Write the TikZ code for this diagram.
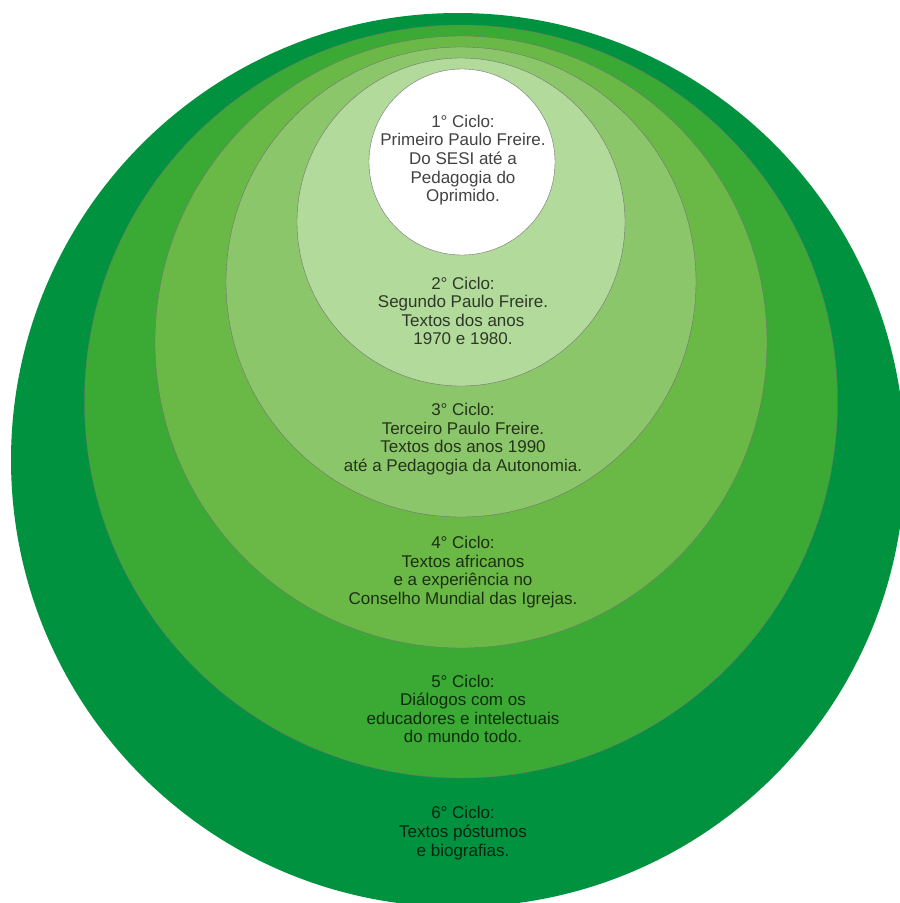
\documentclass[tikz,border=0pt]{standalone}
\usepackage{fontspec}
\setmainfont{Liberation Sans}
\definecolor{g6}{RGB}{0,146,63}
\definecolor{g5}{RGB}{58,170,53}
\definecolor{g4}{RGB}{106,184,70}
\definecolor{g3}{RGB}{140,198,106}
\definecolor{g2}{RGB}{178,218,155}
\tikzset{
  ring/.style={circle, inner sep=0pt, draw=black!55, line width=0.4pt},
  lbl/.style={align=center, text=black, text opacity=0.74, inner sep=0pt,
    font=\fontsize{17pt}{18.6pt}\selectfont}
}
\begin{document}
\begin{tikzpicture}[x=1pt,y=-1pt]
\useasboundingbox (0,0) rectangle (900,903);
\clip (0,0) rectangle (900,903);
\node[ring, fill=g6, draw=none, minimum size=894pt] (c6) at (458,460) {};
\node[ring, fill=g5, minimum size=753pt] (c5) at (461,401.5) {};
\node[ring, fill=g4, minimum size=612pt] (c4) at (461,342) {};
\node[ring, fill=g3, minimum size=470pt] (c3) at (461,282) {};
\node[ring, fill=g2, minimum size=328pt] (c2) at (461,222) {};
\node[ring, fill=white, minimum size=186pt] (c1) at (462,162) {};
\node[lbl] (t1) at (463,160) {1° Ciclo:\\Primeiro Paulo Freire.\\Do SESI até a\\Pedagogia do\\Oprimido.};
\node[lbl] (t2) at (463,311) {2° Ciclo:\\Segundo Paulo Freire.\\Textos dos anos\\1970 e 1980.};
\node[lbl] (t3) at (463,439) {3° Ciclo:\\Terceiro Paulo Freire.\\Textos dos anos 1990\\até a Pedagogia da Autonomia.};
\node[lbl] (t4) at (463,572) {4° Ciclo:\\Textos africanos\\e a experiência no\\Conselho Mundial das Igrejas.};
\node[lbl] (t5) at (463,709) {5° Ciclo:\\Diálogos com os\\educadores e intelectuais\\do mundo todo.};
\node[lbl] (t6) at (463,833) {6° Ciclo:\\Textos póstumos\\e biografias.};
\end{tikzpicture}
\end{document}
